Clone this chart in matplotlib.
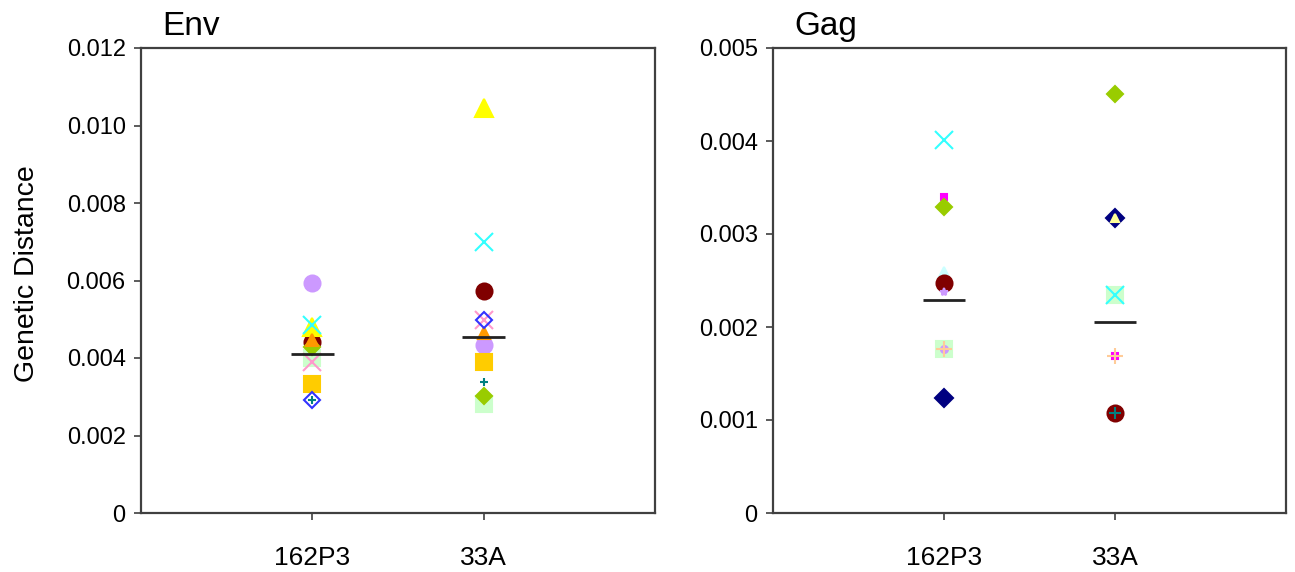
import numpy as np
import matplotlib
matplotlib.use("Agg")
import matplotlib.pyplot as plt

plt.rcParams['font.family'] = ['Liberation Sans', 'DejaVu Sans']

# ---------------------------------------------------------------------------
# Data
# ---------------------------------------------------------------------------
groups = ["162P3", "33A"]

# Env: one value per group for each series (nan = not shown)
env_purple_circle = [0.00594, 0.00434]
env_cyan_x = [0.00485, 0.00699]
env_yellow_tri = [0.00480, 0.01045]
env_darkred_circle = [0.00441, 0.00573]
env_orange_tri = [0.00446, 0.00465]
env_green_diamond = [0.00428, 0.00302]
env_lightgreen_square = [0.00400, 0.00281]
env_pink_x = [0.00390, 0.00498]
env_gold_square = [0.00333, 0.00390]
env_blue_diamond = [0.00292, 0.00498]
env_teal_plus = [0.00292, 0.00338]
env_means = [0.00410, 0.00454]

# Gag
gag_navy_diamond = [0.00124, 0.00317]
gag_magenta_square = [0.00340, 0.00169]
gag_green_diamond = [0.00329, 0.00451]
gag_cyan_x = [0.00401, 0.00234]
gag_lightgreen_square = [0.00176, 0.00234]
gag_purple_circle = [0.00176, np.nan]
gag_purple_star = [0.00238, np.nan]
gag_paleyellow_tri = [np.nan, 0.00317]
gag_palecyan_tri = [0.00258, np.nan]
gag_darkred_circle = [0.00247, 0.00108]
gag_teal_plus = [np.nan, 0.00108]
gag_peach_plus = [0.00176, 0.00169]
gag_means = [0.00229, 0.00205]

env_yticks = [0, 0.002, 0.004, 0.006, 0.008, 0.010, 0.012]
env_yticklabels = ["0", "0.002", "0.004", "0.006", "0.008", "0.010", "0.012"]
gag_yticks = [0, 0.001, 0.002, 0.003, 0.004, 0.005]
gag_yticklabels = ["0", "0.001", "0.002", "0.003", "0.004", "0.005"]

# ---------------------------------------------------------------------------
# Styles: (values, marker, size, face, edge)
# ---------------------------------------------------------------------------
env_series = [
    (env_purple_circle, 'o', 11.5, '#CC99FF', '#CC99FF'),
    (env_lightgreen_square, 's', 11.5, '#CCFFCC', '#CCFFCC'),
    (env_gold_square, 's', 11.5, '#FFCC00', '#FFCC00'),
    (env_darkred_circle, 'o', 11.5, '#800000', '#800000'),
    (env_green_diamond, 'D', 8.0, '#99CC00', '#99CC00'),
    (env_yellow_tri, '^', 12.5, '#FFFF00', '#FFFF00'),
    (env_orange_tri, '^', 9.0, '#FF9900', '#FF9900'),
    (env_cyan_x, 'x', 12.5, '#33FFFF', '#33FFFF'),
    (env_pink_x, 'x', 12.5, '#FF99CC', '#FF99CC'),
    (env_blue_diamond, 'D', 8.0, 'none', '#3333FF'),
    (env_teal_plus, '+', 6.0, '#008080', '#008080'),
]

gag_series = [
    (gag_lightgreen_square, 's', 11.5, '#CCFFCC', '#CCFFCC'),
    (gag_cyan_x, 'x', 12.5, '#33FFFF', '#33FFFF'),
    (gag_palecyan_tri, '^', 8.0, '#CCFFFF', '#CCFFFF'),
    (gag_darkred_circle, 'o', 11.5, '#800000', '#800000'),
    (gag_purple_star, '*', 6.0, '#CC99FF', '#CC99FF'),
    (gag_purple_circle, 'o', 5.0, '#CC99FF', '#CC99FF'),
    (gag_navy_diamond, 'D', 9.0, '#000080', '#000080'),
    (gag_paleyellow_tri, '^', 6.0, '#FFFF99', '#FFFF99'),
    (gag_magenta_square, 's', 5.0, '#FF00FF', '#FF00FF'),
    (gag_green_diamond, 'D', 8.5, '#99CC00', '#99CC00'),
    (gag_peach_plus, '+', 11.0, '#FFCC99', '#FFCC99'),
    (gag_teal_plus, '+', 8.0, '#008080', '#008080'),
]

spine_color = '#404040'


def draw_panel(ax, series, means, yticks, yticklabels, ymax, title):
    xpos = np.arange(1, len(groups) + 1)
    for vals, marker, ms, fc, ec in series:
        ax.plot(xpos, vals, linestyle='none', marker=marker, markersize=ms,
                markerfacecolor=fc, markeredgecolor=ec, markeredgewidth=1.5)
    # mean bars
    ax.hlines(means, xpos - 0.125, xpos + 0.125, colors='#222222',
              linewidth=2, zorder=5)

    ax.set_xlim(0, 3)
    ax.set_ylim(0, ymax)
    ax.set_xticks(xpos)
    ax.set_xticklabels(groups, fontsize=19)
    ax.set_yticks(yticks)
    ax.set_yticklabels(yticklabels, fontsize=17)
    ax.tick_params(axis='x', direction='out', length=5, width=1.2,
                   color=spine_color, pad=19)
    ax.tick_params(axis='y', direction='out', length=5, width=1.2,
                   color=spine_color, pad=6)
    for sp in ax.spines.values():
        sp.set_color(spine_color)
        sp.set_linewidth(1.6)
    ax.text(0.042, 1.028, title, transform=ax.transAxes, fontsize=24,
            ha='left', va='baseline')


fig = plt.figure(figsize=(12.95, 5.72), dpi=100)
ax1 = fig.add_axes([141 / 1295, 1 - 513 / 572, 514 / 1295, 465 / 572])
ax2 = fig.add_axes([773 / 1295, 1 - 513 / 572, 513 / 1295, 465 / 572])

draw_panel(ax1, env_series, env_means, env_yticks, env_yticklabels, 0.012, "Env")
draw_panel(ax2, gag_series, gag_means, gag_yticks, gag_yticklabels, 0.005, "Gag")

fig.text(27 / 1295, 1 - 274 / 572, "Genetic Distance", rotation=90,
         fontsize=20.5, ha='center', va='center')

fig.savefig("out.png", dpi=100)
